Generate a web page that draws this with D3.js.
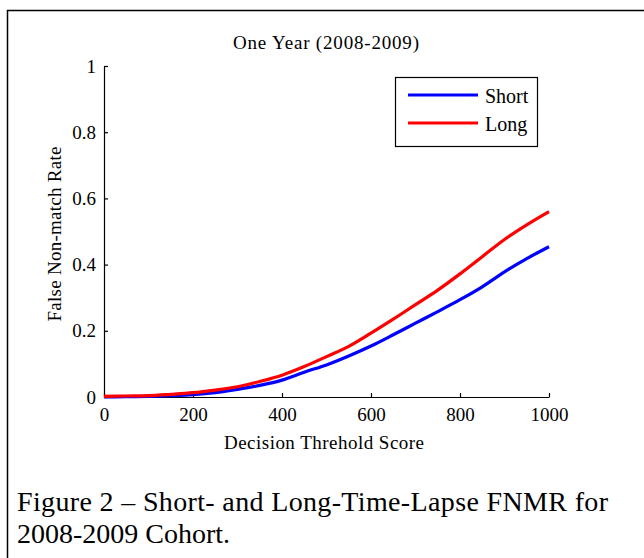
<!DOCTYPE html>
<html>
<head>
<meta charset="utf-8">
<script src="https://cdn.jsdelivr.net/npm/d3@7"></script>
<style>
  html, body { margin: 0; padding: 0; background: #fff; }
  svg { display: block; }
  text { font-family: "Liberation Serif", "Times New Roman", serif; fill: #000; }
</style>
</head>
<body>
<svg id="chart" width="644" height="558"></svg>
<script>
const thresholds = [0,50,100,150,200,250,300,350,400,450,500,550,600,650,700,750,800,850,900,950,1000];
const shortFNMR = [0,0.001,0.002,0.004,0.007,0.013,0.023,0.035,0.051,0.075,0.097,0.124,0.154,0.188,0.223,0.258,0.294,0.333,0.378,0.418,0.454];
const longFNMR  = [0.002,0.003,0.004,0.008,0.013,0.021,0.031,0.047,0.066,0.092,0.122,0.153,0.193,0.235,0.279,0.323,0.372,0.424,0.476,0.520,0.560];
const seriesNames = ["Short", "Long"];
const seriesColors = ["#0000ff", "#ff0000"];
const xTicks = [0,200,400,600,800,1000];
const yTicks = [0,0.2,0.4,0.6,0.8,1];
const titleText = "One Year (2008-2009)";
const xLabel = "Decision Threhold Score";
const yLabel = "False Non-match Rate";
const captionLines = ["Figure 2 \u2013 Short- and Long-Time-Lapse FNMR for", "2008-2009 Cohort."];

const svg = d3.select("#chart");

// outer frame
svg.append("rect").attr("x", 7.5).attr("y", 10.5).attr("width", 700).attr("height", 600)
  .attr("fill", "none").attr("stroke", "#000").attr("stroke-width", 1.5);

const x = d3.scaleLinear().domain([0, 1000]).range([104, 549]);
const y = d3.scaleLinear().domain([0, 1]).range([397, 66]);

const xAxis = d3.axisBottom(x).tickValues(xTicks).tickSizeInner(-4).tickSizeOuter(0).tickPadding(10).tickFormat(d3.format("d"));
const yAxis = d3.axisLeft(y).tickValues(yTicks).tickSizeInner(-4).tickSizeOuter(0).tickPadding(8).tickFormat(d => d === 0 || d === 1 ? String(d) : d.toFixed(1));

const gx = svg.append("g").attr("transform", `translate(0,${y(0)})`).call(xAxis);
const gy = svg.append("g").attr("transform", `translate(${x(0)},0)`).call(yAxis);
[gx, gy].forEach(g => {
  g.select(".domain").attr("stroke", "#000").attr("stroke-width", 1.2);
  g.selectAll(".tick line").attr("stroke", "#000").attr("stroke-width", 1.2);
  g.selectAll(".tick text").attr("font-family", "Liberation Serif").attr("font-size", 19).attr("fill", "#000");
});
gx.selectAll(".tick text").attr("dy", "0.75em");

const datasets = [shortFNMR, longFNMR];
const line = d3.line().x((d, i) => x(thresholds[i])).y(d => y(d)).curve(d3.curveMonotoneX);
datasets.forEach((vals, k) => {
  svg.append("path").datum(vals).attr("d", line).attr("fill", "none")
    .attr("stroke", seriesColors[k]).attr("stroke-width", 3.2).attr("stroke-linejoin", "round");
});

// title and labels
svg.append("text").attr("x", 326).attr("y", 49).attr("text-anchor", "middle").attr("font-size", 19)
  .attr("textLength", 186).attr("lengthAdjust", "spacing").text(titleText);
svg.append("text").attr("x", 324).attr("y", 449).attr("text-anchor", "middle").attr("font-size", 19)
  .attr("textLength", 200).attr("lengthAdjust", "spacing").text(xLabel);
svg.append("text").attr("transform", "translate(61,234) rotate(-90)").attr("text-anchor", "middle").attr("font-size", 19)
  .attr("textLength", 175).attr("lengthAdjust", "spacing").text(yLabel);

// legend
const lg = svg.append("g");
lg.append("rect").attr("x", 395.5).attr("y", 77.5).attr("width", 142).attr("height", 69)
  .attr("fill", "#fff").attr("stroke", "#000").attr("stroke-width", 1.2);
seriesNames.forEach((name, k) => {
  const ly = 95 + k * 28;
  lg.append("line").attr("x1", 408).attr("x2", 478).attr("y1", ly).attr("y2", ly)
    .attr("stroke", seriesColors[k]).attr("stroke-width", 3);
  lg.append("text").attr("x", 485).attr("y", ly + 8).attr("font-size", 20).text(name);
});

// caption
captionLines.forEach((t, i) => {
  const tx = svg.append("text").attr("x", 17).attr("y", 511 + i * 32).attr("font-size", 28).text(t);
  if (i === 0) tx.attr("textLength", 591).attr("lengthAdjust", "spacing");
});
</script>
</body>
</html>
